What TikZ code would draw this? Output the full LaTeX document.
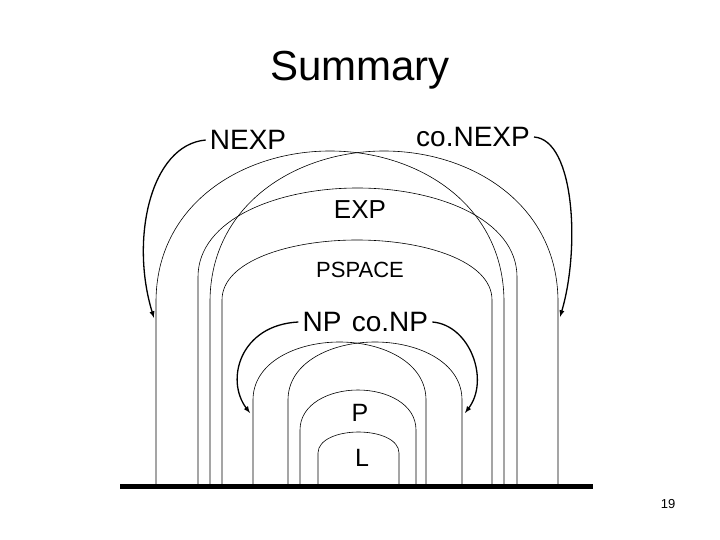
\documentclass[tikz,border=0pt]{standalone}
\usepackage{fontspec}
\setmainfont{Liberation Sans}
\begin{document}
\begin{tikzpicture}[x=1pt,y=-1pt,
  arch/.style={line width=0.6pt},
  lbl/.style={inner sep=4pt,font=\fontsize{28}{30}\selectfont},
  arr/.style={line width=1.3pt,-latex}]
\useasboundingbox (0,0) rectangle (720,540);
% arches: xl, xr, shoulder y, top y
\foreach \xl/\xr/\s/\t in {156/504/302/151, 210/558/302/151, 198/517/277/188, 222/492/300/240,
  253/426/400/342, 288/462/400/342, 300/416/430/390, 318/399/453/432}{
  \pgfmathsetmacro{\cx}{(\xr+\xl)/2}
  \pgfmathsetmacro{\rx}{(\xr-\xl)/2}
  \pgfmathsetmacro{\ya}{\t+0.35*(\s-\t)}
  \pgfmathsetmacro{\xa}{\cx-0.5*\rx}
  \pgfmathsetmacro{\xb}{\cx+0.5*\rx}
  \draw[arch] (\xl,486) -- (\xl,\s) .. controls (\xl,\ya) and (\xa,\t) .. (\cx,\t)
     .. controls (\xb,\t) and (\xr,\ya) .. (\xr,\s) -- (\xr,486);
}
\draw[line width=5pt] (120,486) -- (593,486);
\node (title) at (360,70) {\fontsize{42}{46}\selectfont Summary};
\node[lbl] (nexp) at (248,140) {NEXP};
\node[lbl] (conexp) at (473,137) {co.NEXP};
\node[lbl,font=\fontsize{26}{28}\selectfont] (exp) at (360,210) {EXP};
\node[lbl,font=\fontsize{22}{24}\selectfont] (pspace) at (360,270) {PSPACE};
\node[lbl] (np) at (322,322) {NP};
\node[lbl] (conp) at (390,322) {co.NP};
\node[lbl,font=\fontsize{25}{27}\selectfont] (p) at (360,413) {P};
\node[lbl,font=\fontsize{25}{27}\selectfont] (l) at (362,458) {L};
\node[font=\fontsize{13}{15}\selectfont] (num) at (668,504) {19};
\coordinate (a1) at (154,318);
\coordinate (a2) at (560,317);
\coordinate (a3) at (250,413);
\coordinate (a4) at (465,413);
\draw[arr] (nexp.west) .. controls (150,145) and (130,240) .. (a1);
\draw[arr] (conexp.east) .. controls (575,140) and (580,250) .. (a2);
\draw[arr] (np.west) .. controls (240,325) and (225,380) .. (a3);
\draw[arr] (conp.east) .. controls (470,325) and (490,380) .. (a4);
\end{tikzpicture}
\end{document}
